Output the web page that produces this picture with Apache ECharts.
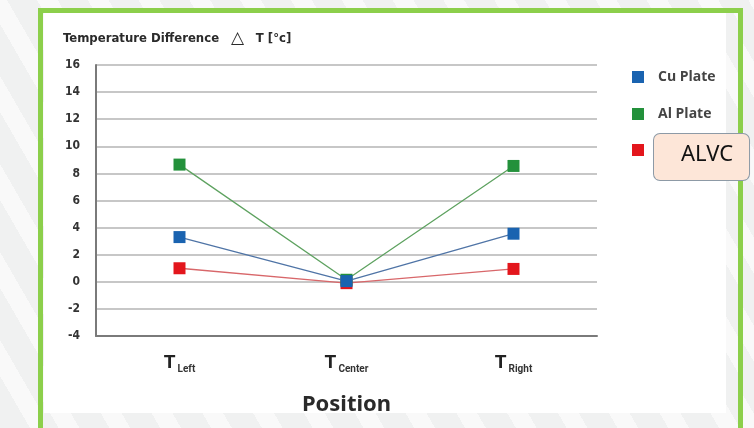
<!DOCTYPE html>
<html>
<head>
<meta charset="utf-8">
<script src="https://cdn.jsdelivr.net/npm/echarts@6/dist/echarts.min.js"></script>
<style>
  html, body { margin:0; padding:0; width:754px; height:428px; overflow:hidden; }
  body {
    background: repeating-linear-gradient(60deg, #f0f1f1 0px, #f0f1f1 26px, #f9f9f9 26px, #f9f9f9 44px);
    position: relative;
  }
  #frame {
    position:absolute; left:38px; top:8px; width:695px; height:440px;
    border:5px solid #8ccf4b; box-sizing:content-box;
    background: repeating-linear-gradient(60deg, #f0f1f1 0px, #f0f1f1 26px, #f9f9f9 26px, #f9f9f9 44px);
  }
  #paper { position:absolute; left:44px; top:13px; width:682px; height:400px; background:#ffffff; }
  #chart { position:absolute; left:0; top:0; width:754px; height:428px; }
</style>
</head>
<body>
<div id="frame"></div>
<div id="paper"></div>
<div id="chart"></div>
<script>
const categories = ['Left', 'Center', 'Right'];
const cuPlate = [3.3, 0.05, 3.55];
const alPlate = [8.65, 0.15, 8.55];
const alvc = [1.0, -0.1, 0.95];
const yTicks = { min: -4, max: 16, interval: 2 };
const seriesNames = ['Cu Plate', 'Al Plate', 'ALVC'];

const chart = echarts.init(document.getElementById('chart'), null, { renderer: 'canvas' });

const markerColors = ['#1a63b0', '#23913b', '#e3161c'];
const lineColors = ['#4f74a6', '#5ea260', '#d8676a'];
const zOrder = [6, 4, 3];
const values = [cuPlate, alPlate, alvc];

chart.setOption({
  backgroundColor: 'transparent',
  animation: false,
  title: {
    text: '{a|Temperature Difference}{d|  △  }{a|T [°c]}',
    left: 63, top: 30, padding: 0,
    textStyle: {
      rich: {
        a: { fontSize: 13, fontWeight: 'bold', color: '#2a2a2a', fontFamily: 'DejaVu Sans Condensed' },
        d: { fontSize: 17, color: '#2a2a2a', fontFamily: 'DejaVu Sans' }
      }
    }
  },
  legend: [
    {
      data: seriesNames.slice(0, 2),
      orient: 'vertical',
      left: 627, top: 65,
      icon: 'rect', itemWidth: 12, itemHeight: 12, itemGap: 23,
      formatter: '{sp|}{n|{name}}',
      textStyle: {
        rich: {
          sp: { width: 9 },
          n: { fontSize: 14, fontWeight: 'bold', color: '#444', fontFamily: 'Open Sans' }
        }
      }
    },
    {
      data: [seriesNames[2]],
      orient: 'vertical',
      left: 627, top: 128,
      icon: 'rect', itemWidth: 12, itemHeight: 12,
      formatter: '{sp|}{b|{name}}',
      textStyle: {
        rich: {
          sp: { width: 5, height: 60 },
          b: {
            fontSize: 22, color: '#111', fontFamily: 'Noto Sans',
            backgroundColor: '#fde6d8', borderColor: '#8d9aa6', borderWidth: 1, borderRadius: 6,
            padding: [10, 16, 14, 27], verticalAlign: 'bottom'
          }
        }
      }
    }
  ],
  grid: { left: 96, right: 157, top: 65, bottom: 92, containLabel: false },
  xAxis: {
    type: 'category',
    data: categories,
    boundaryGap: true,
    axisLine: { show: true, onZero: false, lineStyle: { color: '#7a7a7a', width: 2 } },
    axisTick: { show: false },
    splitLine: { show: false },
    axisLabel: {
      margin: 18,
      formatter: v => '{t|T}{s|' + v + '}',
      rich: {
        t: { fontSize: 19, fontWeight: 'bold', color: '#222', fontFamily: 'Roboto', verticalAlign: 'bottom' },
        s: { fontSize: 10, fontWeight: 'bold', color: '#333', fontFamily: 'Roboto', verticalAlign: 'bottom', padding: [0, 0, -1, 2] }
      }
    },
    name: 'Position',
    nameLocation: 'middle',
    nameGap: 58,
    nameTextStyle: { fontSize: 22, fontWeight: 'bold', color: '#2a2a2a', fontFamily: 'Noto Sans' }
  },
  yAxis: {
    type: 'value',
    min: yTicks.min, max: yTicks.max, interval: yTicks.interval,
    axisLine: { show: true, onZero: false, lineStyle: { color: '#7a7a7a', width: 2 } },
    axisTick: { show: false },
    axisLabel: { margin: 16, fontSize: 12, fontWeight: 'bold', color: '#333', fontFamily: 'DejaVu Sans Condensed' },
    splitLine: { show: true, lineStyle: { color: '#b4b4b4', width: 1.5 } }
  },
  series: seriesNames.map((name, i) => ({
    name: name,
    type: 'line',
    data: values[i],
    symbol: 'rect',
    symbolSize: 12,
    z: zOrder[i],
    itemStyle: { color: markerColors[i] },
    lineStyle: { color: lineColors[i], width: 1.3 }
  }))
});
</script>
</body>
</html>
